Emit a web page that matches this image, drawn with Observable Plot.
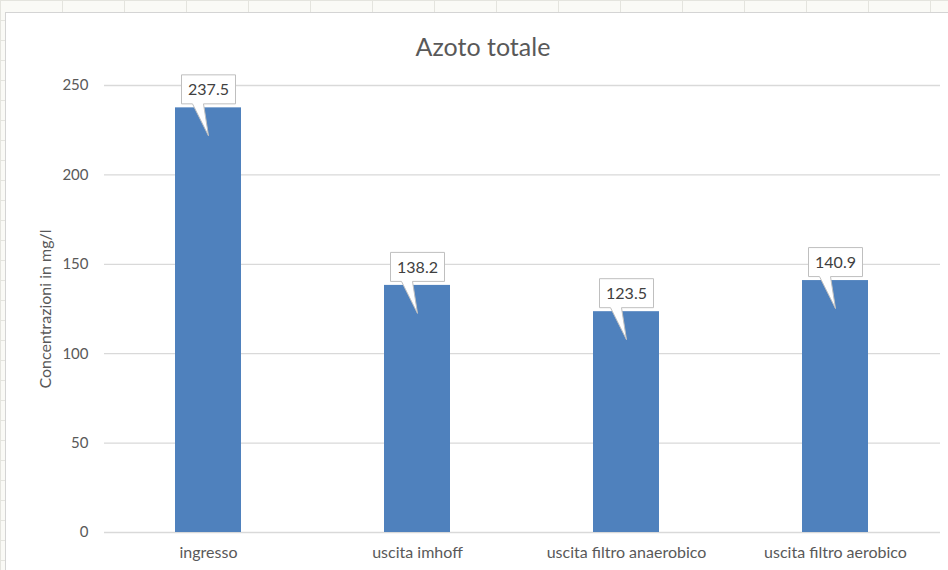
<!DOCTYPE html>
<html>
<head>
<meta charset="utf-8">
<script src="https://cdn.jsdelivr.net/npm/d3@7"></script>
<script src="https://cdn.jsdelivr.net/npm/@observablehq/plot@0.6"></script>
<style>
  html, body { margin: 0; padding: 0; }
  body {
    width: 948px; height: 570px; overflow: hidden; position: relative;
    background-color: #fafaf6;
    background-image:
      linear-gradient(to right, #e4e4de 1px, transparent 1px),
      linear-gradient(to bottom, #e4e4de 1px, transparent 1px);
    background-size: 62px 20px;
    font-family: Lato, "Open Sans", sans-serif;
  }
  #box {
    position: absolute; left: 5px; top: 12px; width: 950px; height: 570px;
    background: #fff; border: 1px solid #d4d4d4;
  }
  #title {
    position: absolute; left: 0; top: 30px; width: 966px; text-align: center;
    font-size: 25px; color: #595959; line-height: 32px;
  }
  #chart { position: absolute; left: 0; top: 0; }
</style>
</head>
<body>
<div id="box"></div>
<div id="title">Azoto totale</div>
<div id="chart"></div>
<script>
const categories = ["ingresso", "uscita imhoff", "uscita filtro anaerobico", "uscita filtro aerobico"];
const values = [237.5, 138.2, 123.5, 140.9];
const yTicks = [0, 50, 100, 150, 200, 250];
const yLabel = "Concentrazioni in mg/l";

const data = categories.map((c, i) => ({category: c, value: values[i]}));

// Callout shape (box above bar top with pointer into bar)
const callout = {
  draw(context) {
    context.moveTo(-27, -33);
    context.lineTo(27, -33);
    context.lineTo(27, -4);
    context.lineTo(-5, -4);
    context.lineTo(0, 28);
    context.lineTo(-16, -4);
    context.lineTo(-27, -4);
    context.closePath();
  }
};

const chart = Plot.plot({
  width: 948,
  height: 570,
  marginTop: 85,
  marginBottom: 38,
  marginLeft: 104,
  marginRight: 8,
  style: {fontFamily: "Lato, 'Open Sans', sans-serif", fontSize: "15px", color: "#595959", background: "transparent"},
  x: {domain: categories, paddingInner: 0.684, paddingOuter: 0.342, label: null},
  y: {domain: [0, 250], ticks: yTicks, label: null},
  marks: [
    Plot.gridY(yTicks, {stroke: "#d9d9d9", strokeOpacity: 1, strokeWidth: 1.3}),
    Plot.axisY(yTicks, {tickSize: 0, tickPadding: 16, fill: "#595959", fontSize: 15, label: null}),
    Plot.axisX({tickSize: 0, tickPadding: 14, fill: "#595959", fontSize: 16, label: null}),
    Plot.text([yLabel], {frameAnchor: "left", textAnchor: "middle", rotate: -90, dx: -59, text: d => d, fill: "#595959", fontSize: 16}),
    Plot.barY(data, {x: "category", y: "value", fill: "#4f81bd"}),
    Plot.dot(data, {x: "category", y: "value", symbol: callout, fill: "#ffffff", stroke: "#bfbfbf", strokeWidth: 1}),
    Plot.text(data, {x: "category", y: "value", text: d => d.value.toFixed(1), dy: -18, fill: "#404040", fontSize: 16})
  ]
});
document.getElementById("chart").appendChild(chart);
</script>
</body>
</html>
